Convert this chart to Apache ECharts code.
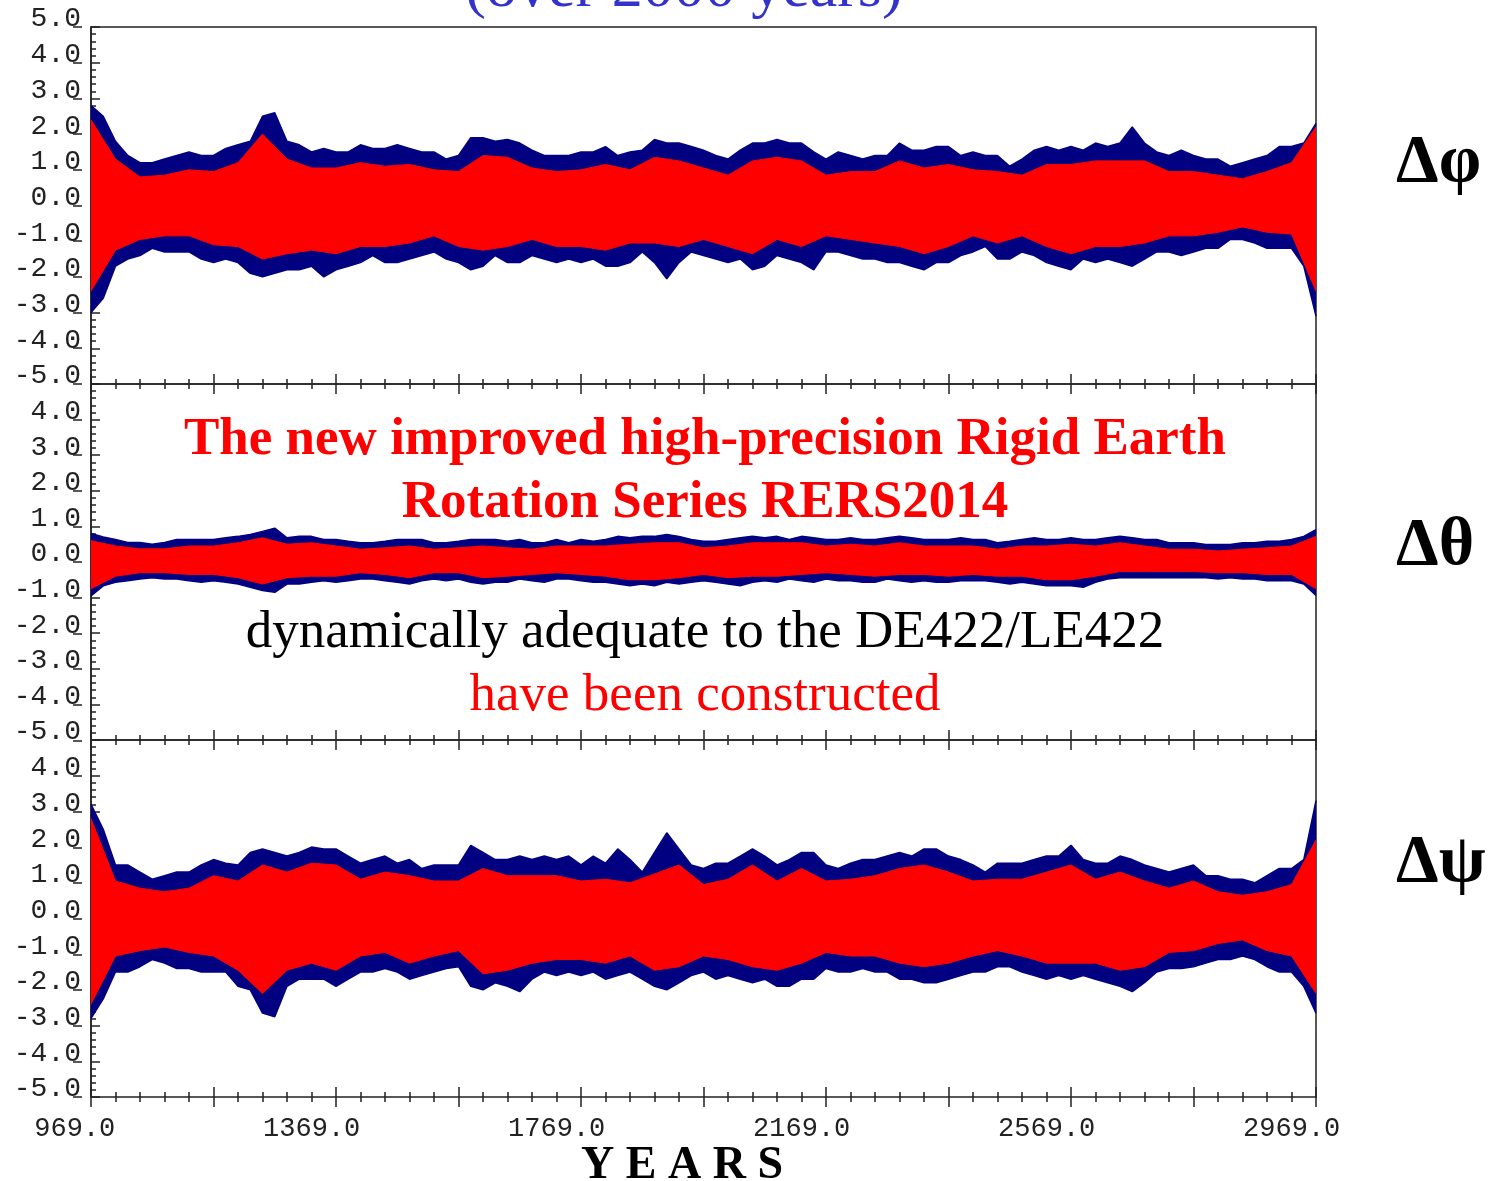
<!DOCTYPE html>
<html>
<head>
<meta charset="utf-8">
<title>RERS2014 - rigid Earth rotation over 2000 years</title>
<script src="https://cdn.jsdelivr.net/npm/echarts@6/dist/echarts.min.js"></script>
<style>
  html, body { margin: 0; padding: 0; background: #fff; }
  #chart { width: 1488px; height: 1181px; }
</style>
</head>
<body>
<div id="chart"></div>
<script>
// envelope readings: blue every 20 years, red core every 40 years (969 .. 2969)
const YEAR_START = 969;
const YEAR_END = 2969;
const BLUE_STEP = 20;
const RED_STEP = 40;
const xLabelYears = [969, 1369, 1769, 2169, 2569, 2969];
const panelNames = ['Δφ', 'Δθ', 'Δψ'];

// Δφ
const phiBlueUp = [2.8,2.5,1.8,1.4,1.2,1.2,1.3,1.4,1.5,1.4, 1.4,1.6,1.7,1.8,2.5,2.6,1.8,1.7,1.5,1.6,
  1.5,1.5,1.7,1.6,1.6,1.7,1.6,1.5,1.5,1.3, 1.4,1.9,1.9,1.8,
  1.85,1.75,1.55,1.4,1.4,1.4,1.5,1.5,1.65,1.4, 1.5,1.55,1.85,1.75,1.75,1.65,1.55,1.4,1.3,1.55,
  1.75,1.75,1.85,1.75,1.75,1.5,1.3,1.5,1.4,1.3, 1.4,1.4,1.75,1.55,1.55,1.65,1.65,1.4,1.5,
  1.4,1.4,1.1,1.3,1.55,1.65,1.55,1.65,1.55,1.75, 1.65,1.75,2.2,1.75,1.5,1.4,1.55,1.4,1.3,1.3,
  1.1,1.2,1.3,1.4,1.65,1.65,1.75,2.3];
const phiBlueLo = [-3.0,-2.6,-1.7,-1.5,-1.4,-1.2,-1.3,-1.3,-1.3,-1.5, -1.6,-1.5,-1.6,-1.9,-2.0,-1.9,-1.8,-1.8,-1.7,-2.0,
  -1.8,-1.7,-1.6,-1.4,-1.6,-1.6,-1.5,-1.4,-1.3,-1.5, -1.6,-1.8,-1.7,-1.4,
  -1.6,-1.6,-1.4,-1.5,-1.6,-1.5,-1.6,-1.5,-1.7,-1.7, -1.6,-1.3,-1.6,-2.05,-1.6,-1.3,-1.4,-1.5,-1.6,-1.5,
  -1.8,-1.7,-1.4,-1.5,-1.6,-1.8,-1.3,-1.3,-1.4,-1.5, -1.5,-1.6,-1.6,-1.7,-1.8,-1.6,-1.6,-1.4,-1.3,
  -1.15,-1.5,-1.5,-1.3,-1.4,-1.6,-1.7,-1.8,-1.5,-1.6, -1.5,-1.6,-1.7,-1.5,-1.3,-1.3,-1.4,-1.3,-1.2,-1.2,
  -0.95,-0.95,-1.05,-1.2,-1.2,-1.2,-1.7,-3.1];
const phiRedUp = [2.4,1.3,0.8,0.85,1.0,0.95,1.2,2.0,1.3,1.05, 1.05,1.2,1.1,1.15,1.0,0.95,1.4,1.35,1.05,0.95,
  1.0,1.15,1.0,1.35,1.25,1.05,0.85,1.25,1.35,1.25, 0.85,0.95,0.95,1.25,1.05,1.15,1.0,0.95,0.85,1.15,
  1.15,1.25,1.25,1.25,0.95,0.95,0.85,0.75,0.95,1.2, 2.2];
const phiRedLo = [-2.4,-1.25,-0.95,-0.85,-0.85,-1.1,-1.15,-1.5,-1.35,-1.25, -1.35,-1.15,-1.15,-1.05,-0.85,-1.15,-1.25,-1.15,-0.95,-1.15,
  -1.15,-1.25,-1.05,-1.05,-1.15,-0.95,-1.15,-1.35,-0.95,-1.15, -0.85,-0.95,-1.05,-1.15,-1.35,-1.15,-0.85,-1.05,-0.85,-1.15,
  -1.35,-1.15,-1.15,-1.05,-0.85,-0.85,-0.75,-0.6,-0.75,-0.8, -2.4];

// Δθ
const thetaBlueUp = [0.8,0.7,0.63,0.55,0.55,0.5,0.55,0.63,0.63,0.63, 0.63,0.68,0.72,0.77,0.86,0.95,0.68,0.72,0.72,0.63,
  0.63,0.58,0.54,0.54,0.58,0.63,0.63,0.63,0.54,0.54, 0.58,0.63,0.63,0.63,
  0.58,0.63,0.54,0.54,0.63,0.54,0.63,0.58,0.63,0.72, 0.68,0.72,0.72,0.77,0.72,0.63,0.58,0.58,0.63,0.68,
  0.72,0.68,0.72,0.63,0.72,0.68,0.63,0.63,0.68,0.63, 0.63,0.68,0.72,0.68,0.63,0.63,0.63,0.68,0.63,
  0.63,0.54,0.58,0.63,0.68,0.63,0.63,0.68,0.63,0.63, 0.68,0.72,0.68,0.63,0.63,0.54,0.54,0.54,0.49,0.49,
  0.49,0.54,0.54,0.58,0.58,0.63,0.72,0.91];
const thetaBlueLo = [-0.95,-0.67,-0.57,-0.53,-0.48,-0.44,-0.48,-0.48,-0.53,-0.57, -0.53,-0.57,-0.62,-0.71,-0.8,-0.85,-0.62,-0.62,-0.57,-0.53,
  -0.57,-0.53,-0.48,-0.48,-0.53,-0.57,-0.62,-0.53,-0.48,-0.53, -0.48,-0.57,-0.62,-0.57,
  -0.57,-0.48,-0.53,-0.57,-0.48,-0.48,-0.53,-0.57,-0.57,-0.62, -0.67,-0.62,-0.67,-0.57,-0.62,-0.57,-0.53,-0.57,-0.62,-0.67,
  -0.57,-0.53,-0.57,-0.48,-0.53,-0.57,-0.48,-0.53,-0.53,-0.57, -0.57,-0.48,-0.53,-0.57,-0.53,-0.57,-0.57,-0.53,-0.53,
  -0.53,-0.57,-0.62,-0.57,-0.62,-0.67,-0.67,-0.67,-0.71,-0.57, -0.48,-0.44,-0.44,-0.44,-0.44,-0.44,-0.44,-0.44,-0.44,-0.48,
  -0.44,-0.48,-0.48,-0.53,-0.53,-0.53,-0.62,-0.94];
const thetaRedUp = [0.6,0.45,0.37,0.37,0.45,0.45,0.54,0.68,0.5,0.54, 0.45,0.36,0.4,0.45,0.36,0.4,0.45,0.4,0.36,0.45,
  0.45,0.45,0.5,0.54,0.54,0.4,0.45,0.54,0.54,0.54, 0.45,0.5,0.45,0.54,0.45,0.45,0.45,0.36,0.45,0.45,
  0.5,0.45,0.54,0.45,0.36,0.36,0.31,0.36,0.4,0.45, 0.72];
const thetaRedLo = [-0.75,-0.4,-0.3,-0.3,-0.35,-0.35,-0.44,-0.62,-0.44,-0.4, -0.4,-0.3,-0.35,-0.44,-0.3,-0.3,-0.44,-0.4,-0.35,-0.3,
  -0.35,-0.4,-0.5,-0.5,-0.44,-0.35,-0.44,-0.4,-0.4,-0.35, -0.3,-0.35,-0.4,-0.35,-0.35,-0.4,-0.35,-0.4,-0.4,-0.5,
  -0.5,-0.4,-0.27,-0.27,-0.27,-0.27,-0.3,-0.3,-0.35,-0.35, -0.75];

// Δψ
const psiBlueUp = [3.2,2.5,1.5,1.5,1.3,1.1,1.2,1.3,1.3,1.5, 1.65,1.55,1.5,1.85,1.95,1.85,1.75,1.85,2.0,1.95,
  1.95,1.75,1.55,1.65,1.75,1.55,1.65,1.4,1.5,1.5, 1.5,2.05,1.85,1.65,
  1.65,1.75,1.65,1.75,1.65,1.75,1.5,1.75,1.55,1.95, 1.65,1.3,1.85,2.4,1.95,1.5,1.4,1.55,1.55,1.75,
  1.95,1.75,1.5,1.65,1.85,1.85,1.5,1.4,1.55,1.65, 1.65,1.75,1.85,1.75,1.95,1.95,1.75,1.65,1.5,
  1.3,1.55,1.55,1.55,1.65,1.75,1.75,2.05,1.65,1.55, 1.55,1.75,1.65,1.5,1.4,1.3,1.4,1.5,1.2,1.2,
  1.1,1.1,1.0,1.2,1.4,1.4,1.65,3.3];
const psiBlueLo = [-2.8,-2.25,-1.5,-1.5,-1.35,-1.15,-1.25,-1.4,-1.4,-1.5, -1.5,-1.5,-1.9,-2.0,-2.65,-2.75,-1.9,-1.7,-1.7,-1.7,
  -1.9,-1.7,-1.5,-1.5,-1.4,-1.5,-1.7,-1.6,-1.5,-1.4, -1.35,-1.9,-2.0,-1.8,
  -1.9,-2.05,-1.7,-1.5,-1.6,-1.5,-1.6,-1.5,-1.7,-1.6, -1.5,-1.7,-1.9,-2.0,-1.8,-1.6,-1.5,-1.7,-1.6,-1.7,
  -1.8,-1.7,-1.9,-1.9,-1.7,-1.7,-1.4,-1.5,-1.5,-1.4, -1.5,-1.5,-1.7,-1.7,-1.8,-1.8,-1.7,-1.6,-1.5,
  -1.5,-1.35,-1.35,-1.5,-1.6,-1.7,-1.6,-1.7,-1.6,-1.7, -1.8,-1.9,-2.05,-1.8,-1.5,-1.4,-1.4,-1.35,-1.25,-1.15,
  -1.15,-1.05,-1.15,-1.35,-1.5,-1.5,-1.9,-2.65];
const psiRedUp = [2.8,1.05,0.85,0.75,0.85,1.2,1.05,1.5,1.3,1.55, 1.5,1.1,1.3,1.2,1.05,1.05,1.4,1.2,1.2,1.2,
  1.05,1.1,1.0,1.25,1.5,0.95,1.1,1.5,1.05,1.4, 1.05,1.1,1.2,1.4,1.5,1.3,1.05,1.1,1.1,1.3,
  1.5,1.1,1.3,1.05,0.85,1.05,0.75,0.65,0.75,0.95, 2.2];
const psiRedLo = [-2.4,-1.05,-0.9,-0.8,-0.95,-1.05,-1.45,-2.1,-1.45,-1.25, -1.45,-1.05,-0.95,-1.25,-1.05,-0.9,-1.55,-1.45,-1.25,-1.15,
  -1.15,-1.25,-1.05,-1.45,-1.35,-1.05,-1.15,-1.35,-1.45,-1.25, -0.95,-1.05,-1.05,-1.25,-1.35,-1.25,-1.05,-0.9,-1.05,-1.25,
  -1.25,-1.25,-1.45,-1.35,-0.95,-0.9,-0.7,-0.6,-0.9,-1.05, -2.1];

const panels = [
  { blueUp: phiBlueUp, blueLo: phiBlueLo, redUp: phiRedUp, redLo: phiRedLo },
  { blueUp: thetaBlueUp, blueLo: thetaBlueLo, redUp: thetaRedUp, redLo: thetaRedLo },
  { blueUp: psiBlueUp, blueLo: psiBlueLo, redUp: psiRedUp, redLo: psiRedLo },
];

const NAVY = '#000080';
const RED = '#ff0000';
const INK = '#222';
const MONO = '"Liberation Mono", "DejaVu Sans Mono", monospace';
const SERIF = '"Liberation Serif", "DejaVu Serif", serif';

function pairs(step, values) {
  return values.map((v, i) => [YEAR_START + i * step, v]);
}

const chart = echarts.init(document.getElementById('chart'));

const tickLine = { color: INK, width: 1.5 };
const panelTops = [27, 384, 740];
const panelHeights = [357, 356, 357];

const grids = panelTops.map((top, i) => ({
  left: 91, top: top, width: 1225, height: panelHeights[i],
  show: true, borderColor: INK, borderWidth: 1.5, backgroundColor: 'transparent'
}));
// helper grid under the last panel: downward half of the year ticks
grids.push({ left: 91, top: 1097, width: 1225, height: 20, show: false });
// helper strip left of the panels: outward half of the value ticks
grids.push({ left: 82, top: 27, width: 9, height: 1070, show: false });

function yearAxis(gridIndex, position, opts) {
  return Object.assign({
    type: 'value', gridIndex: gridIndex, position: position,
    min: YEAR_START, max: YEAR_END, interval: 200,
    axisLine: { show: false, onZero: false },
    axisTick: { show: true, inside: true, length: 10, lineStyle: tickLine },
    minorTick: { show: true, splitNumber: 5, length: 5, lineStyle: tickLine },
    splitLine: { show: false }, minorSplitLine: { show: false },
    axisLabel: { show: false }
  }, opts || {});
}

const xAxes = [
  yearAxis(0, 'bottom'),
  yearAxis(1, 'bottom'),
  yearAxis(1, 'top'),
  yearAxis(2, 'bottom', {
    axisLabel: {
      show: true, margin: 18, color: INK, fontFamily: MONO, fontSize: 27,
      formatter: function (v) {
        if (xLabelYears.indexOf(Math.round(v)) < 0) return '';
        const s = v.toFixed(1);
        // centre the decimal point on the tick
        const pad = 2 * s.indexOf('.') + 1 - s.length;
        return s + '\u00a0'.repeat(Math.max(0, pad));
      }
    }
  }),
  yearAxis(2, 'top'),
  yearAxis(3, 'top'),
  { type: 'value', gridIndex: 4, show: false }
];

const yAxes = [0, 1, 2].map(i => ({
  type: 'value', gridIndex: i, position: 'left',
  min: -5, max: 5, interval: 1,
  axisLine: { show: true, onZero: false, lineStyle: tickLine },
  axisTick: { show: true, inside: true, length: 9, lineStyle: tickLine },
  minorTick: { show: true, splitNumber: 5, length: 5, lineStyle: tickLine },
  splitLine: { show: false }, minorSplitLine: { show: false },
  axisLabel: {
    margin: 10, color: INK, fontFamily: MONO, fontSize: 28,
    verticalAlign: 'bottom', lineHeight: 16,
    showMaxLabel: i === 0,
    formatter: v => v.toFixed(1)
  }
}));
yAxes.push({ type: 'value', gridIndex: 3, show: false, min: 0, max: 1 });
yAxes.push({
  type: 'value', gridIndex: 4, position: 'right', min: -15, max: 15, interval: 1,
  axisLine: { show: false },
  axisTick: { show: true, inside: true, length: 9, lineStyle: tickLine },
  splitLine: { show: false },
  axisLabel: { show: false }
});

const panelX = [0, 1, 3];
const series = [];
panels.forEach((p, i) => {
  const base = { type: 'line', xAxisIndex: panelX[i], yAxisIndex: i, symbol: 'none', silent: true };
  series.push(Object.assign({}, base, {
    name: panelNames[i] + ' max', data: pairs(BLUE_STEP, p.blueUp),
    lineStyle: { color: NAVY, width: 1.5 }, areaStyle: { color: NAVY, opacity: 1, origin: -0.2 }
  }));
  series.push(Object.assign({}, base, {
    name: panelNames[i] + ' min', data: pairs(BLUE_STEP, p.blueLo),
    lineStyle: { color: NAVY, width: 1.5 }, areaStyle: { color: NAVY, opacity: 1, origin: 0.2 }
  }));
  // the two halves of the red core overlap a little so no seam shows at zero
  series.push(Object.assign({}, base, {
    name: panelNames[i] + ' core max', data: pairs(RED_STEP, p.redUp),
    lineStyle: { color: RED, width: 1 }, areaStyle: { color: RED, opacity: 1, origin: -0.2 }
  }));
  series.push(Object.assign({}, base, {
    name: panelNames[i] + ' core min', data: pairs(RED_STEP, p.redLo),
    lineStyle: { color: RED, width: 1 }, areaStyle: { color: RED, opacity: 1, origin: 0.2 }
  }));
});

function label(text, x, y, size, color, weight, align) {
  return {
    type: 'text', x: x, y: y, z: 100, silent: true,
    style: {
      text: text, fill: color, align: align || 'center', verticalAlign: 'middle',
      font: (weight || 'normal') + ' ' + size + 'px ' + SERIF
    }
  };
}

const option = {
  animation: false,
  backgroundColor: '#fff',
  grid: grids,
  xAxis: xAxes,
  yAxis: yAxes,
  series: series,
  graphic: [
    label('(over 2000 years)', 684, -10, 62, '#3333cc'),
    label('The new improved high-precision Rigid Earth', 705, 440, 53, RED, 'bold'),
    label('Rotation Series RERS2014', 705, 503, 53, RED, 'bold'),
    label('dynamically adequate to the DE422/LE422', 705, 633, 53, '#000'),
    label('have been constructed', 705, 696, 53, RED),
    label(panelNames[0], 1396, 163, 68, '#000', 'bold', 'left'),
    label(panelNames[1], 1396, 546, 68, '#000', 'bold', 'left'),
    label(panelNames[2], 1396, 863, 68, '#000', 'bold', 'left'),
    label('Y E A R S', 682, 1166, 46, '#000', 'bold')
  ]
};

chart.setOption(option);
</script>
</body>
</html>
